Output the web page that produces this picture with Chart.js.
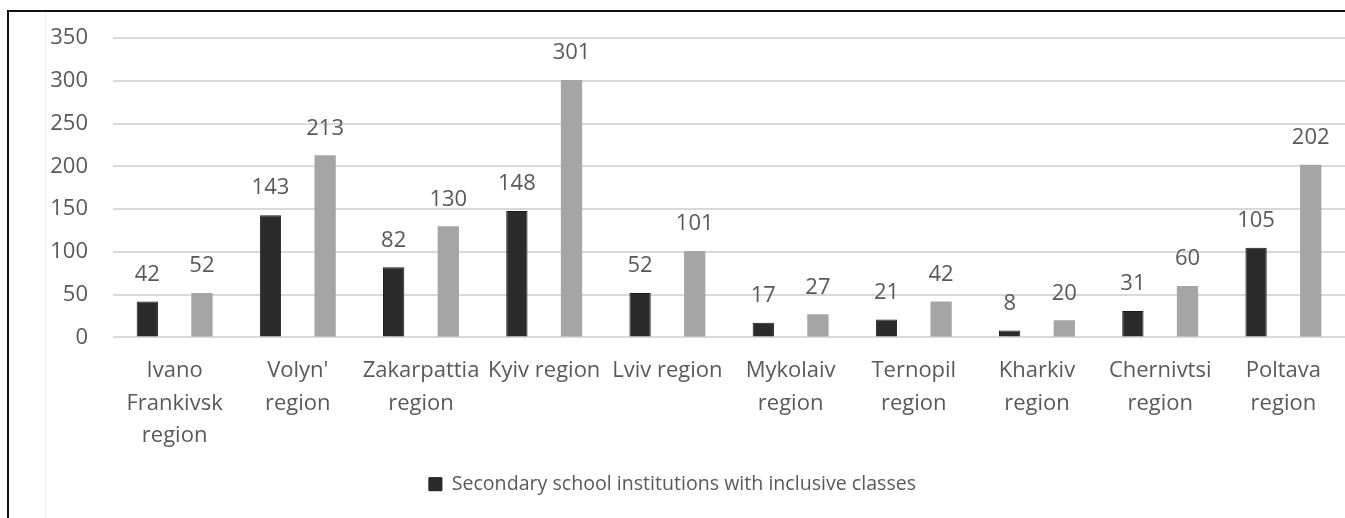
<!DOCTYPE html>
<html>
<head>
<meta charset="utf-8">
<script src="https://cdn.jsdelivr.net/npm/chart.js@4"></script>
<style>
  html, body { margin: 0; padding: 0; background: #fff; overflow: hidden; }
  #wrap { position: relative; width: 1345px; height: 518px; }
  #frame { position: absolute; left: 7px; top: 10px; right: -5px; bottom: -5px;
           border-top: 2px solid #111; border-left: 2px solid #111; }
  #rule { position: absolute; left: 45px; top: 12px; bottom: 0; width: 1px; background: #eeeeee; }
  canvas { position: absolute; left: 0; top: 0; }
</style>
</head>
<body>
<div id="wrap">
  <div id="frame"></div>
  <div id="rule"></div>
  <canvas id="chart" width="1345" height="518"></canvas>
</div>
<script>
// Regions (multi-line labels as drawn under the axis)
const regions = [
  ['Ivano', 'Frankivsk', 'region'],
  ["Volyn'", 'region'],
  ['Zakarpattia', 'region'],
  'Kyiv region',
  'Lviv region',
  ['Mykolaiv', 'region'],
  ['Ternopil', 'region'],
  ['Kharkiv', 'region'],
  ['Chernivtsi', 'region'],
  ['Poltava', 'region']
];

const schoolsWithInclusiveClasses = [42, 143, 82, 148, 52, 17, 21, 8, 31, 105];
const inclusiveClasses = [52, 213, 130, 301, 101, 27, 42, 20, 60, 202];

const yTicks = [0, 50, 100, 150, 200, 250, 300, 350];

const textColor = '#595959';
const fontFamily = '"Open Sans", "Noto Sans", sans-serif';

// Value labels above each bar
const valueLabels = {
  id: 'valueLabels',
  afterDatasetsDraw(chart) {
    const ctx = chart.ctx;
    ctx.save();
    ctx.font = '22px ' + fontFamily;
    ctx.fillStyle = textColor;
    ctx.textAlign = 'center';
    ctx.textBaseline = 'middle';
    chart.data.datasets.forEach((ds, i) => {
      chart.getDatasetMeta(i).data.forEach((bar, j) => {
        ctx.fillText(String(ds.data[j]), bar.x, bar.y - 27);
      });
    });
    ctx.restore();
  }
};

new Chart(document.getElementById('chart'), {
  type: 'bar',
  data: {
    labels: regions,
    datasets: [
      {
        label: 'Secondary school institutions with inclusive classes',
        data: schoolsWithInclusiveClasses,
        backgroundColor: '#2b2b2b',
        borderColor: '#1a1a1a',
        borderWidth: 1,
        categoryPercentage: 0.887,
        barPercentage: 0.39
      },
      {
        label: 'Inclusive classes',
        data: inclusiveClasses,
        backgroundColor: '#a5a5a5',
        borderWidth: 0,
        categoryPercentage: 0.887,
        barPercentage: 0.39
      }
    ]
  },
  options: {
    responsive: false,
    animation: false,
    layout: { padding: { left: 0, right: 0, top: 38, bottom: 14 } },
    plugins: {
      tooltip: { enabled: false },
      legend: {
        position: 'bottom',
        labels: {
          filter: (item) => item.datasetIndex === 0,
          boxWidth: 13,
          boxHeight: 13,
          padding: 10,
          color: textColor,
          font: { family: fontFamily, size: 19.6 }
        }
      }
    },
    scales: {
      x: {
        grid: { display: false },
        border: { display: false },
        ticks: {
          autoSkip: false,
          maxRotation: 0,
          minRotation: 0,
          padding: 9,
          color: textColor,
          font: { family: fontFamily, size: 22, lineHeight: 1.48 }
        },
        afterFit(scale) { scale.height = 127; }
      },
      y: {
        min: 0,
        max: 350,
        afterBuildTicks(scale) { scale.ticks = yTicks.map(v => ({ value: v })); },
        grid: { color: '#d9d9d9', lineWidth: 2, drawTicks: false },
        border: { display: false },
        ticks: {
          padding: 25,
          color: textColor,
          font: { family: fontFamily, size: 22 }
        },
        afterFit(scale) { scale.width = 113; }
      }
    }
  },
  plugins: [valueLabels]
});
</script>
</body>
</html>
